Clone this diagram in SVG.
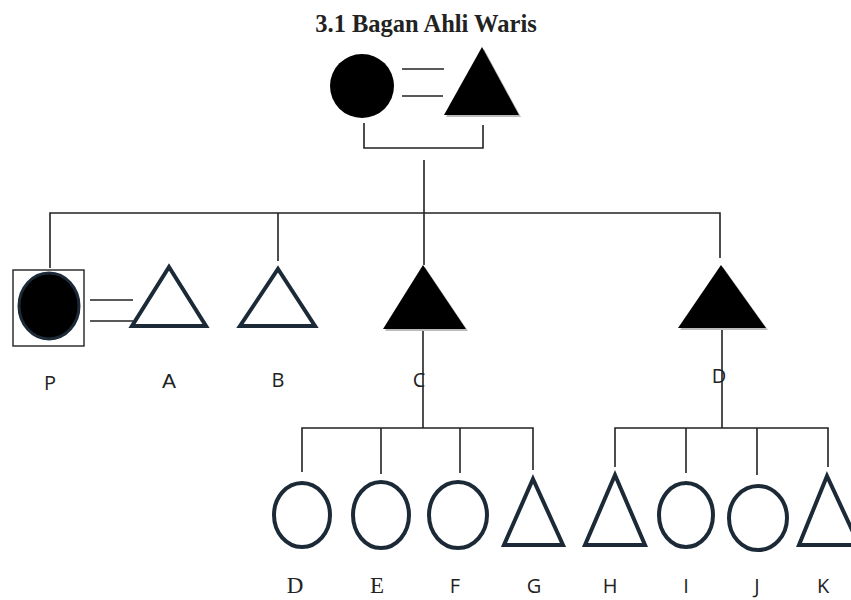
<svg xmlns="http://www.w3.org/2000/svg" width="851" height="600" viewBox="0 0 851 600">
<style>
.ln{stroke:#222;stroke-width:1.6;fill:none}
.open{fill:#fff;stroke:#1c2a38;stroke-width:4;stroke-linejoin:miter}
.fill{fill:#000}
.sh{fill:#bbb}
.lbs{font-family:"Open Sans","Liberation Sans",sans-serif;font-size:20px;fill:#222;text-anchor:middle}
.lbr{font-family:"Liberation Serif",serif;font-size:23px;fill:#222;text-anchor:middle}
.title{font-family:"Liberation Serif",serif;font-weight:bold;font-size:24.5px;fill:#222;text-anchor:middle}
</style>
<rect width="851" height="600" fill="#fff"/>
<text class="title" x="426" y="32">3.1 Bagan Ahli Waris</text>
<g id="connectors">
<line class="ln" x1="402" y1="69" x2="444" y2="69"/>
<line class="ln" x1="402" y1="96" x2="443" y2="96"/>
<polyline class="ln" points="364,123 364,148 483,148 483,125"/>
<line class="ln" x1="424" y1="160" x2="424" y2="265"/>
<polyline class="ln" points="50,268 50,213 720,213 720,258"/>
<line class="ln" x1="278" y1="213" x2="278" y2="261"/>
<line class="ln" x1="90" y1="300" x2="133" y2="300"/>
<line class="ln" x1="90" y1="321" x2="133" y2="321"/>
<line class="ln" x1="423" y1="329" x2="423" y2="428"/>
<polyline class="ln" points="302,472 302,428 533,428 533,470"/>
<line class="ln" x1="381" y1="428" x2="381" y2="474"/>
<line class="ln" x1="460" y1="428" x2="460" y2="473"/>
<line class="ln" x1="722" y1="328" x2="722" y2="428"/>
<polyline class="ln" points="615,467 615,428 828,428 828,467"/>
<line class="ln" x1="686" y1="428" x2="686" y2="473"/>
<line class="ln" x1="757" y1="428" x2="757" y2="475"/>
</g>
<g id="mother">
<circle cx="362" cy="86" r="32" fill="#000"/>
</g>
<g id="father">
<polygon class="sh" points="484,49 521,117 446,117"/>
<polygon class="fill" points="482,47 519,115 444,115"/>
</g>
<g id="P">
<rect x="13" y="270" width="71" height="76" fill="#fff" stroke="#222" stroke-width="1.4"/>
<ellipse cx="49" cy="306" rx="30" ry="33" fill="#000" stroke="#1c2a38" stroke-width="3"/>
<text class="lbs" x="50" y="390">P</text>
</g>
<g id="A">
<polygon class="open" points="169,267 206,326 132,326"/>
<text class="lbr" x="169" y="388" style="font-family:'Liberation Sans',sans-serif;font-size:21px">A</text>
</g>
<g id="B">
<polygon class="open" points="278,269 315,326 240,326"/>
<text class="lbs" x="278" y="387">B</text>
</g>
<g id="C">
<polygon class="sh" points="425,267 468,331 385,331"/>
<polygon class="fill" points="423,265 466,329 383,329"/>
<text class="lbs" x="419" y="387">C</text>
</g>
<g id="D">
<polygon class="sh" points="723,267 768,330 680,330"/>
<polygon class="fill" points="721,265 766,328 678,328"/>
<text class="lbs" x="719" y="383">D</text>
</g>
<g id="D2">
<ellipse class="open" cx="302" cy="515" rx="28" ry="32"/>
<text class="lbr" x="295" y="593">D</text>
</g>
<g id="E">
<ellipse class="open" cx="381" cy="515" rx="28" ry="33"/>
<text class="lbr" x="377" y="593">E</text>
</g>
<g id="F">
<ellipse class="open" cx="458" cy="515" rx="29" ry="33"/>
<text class="lbs" x="455" y="593">F</text>
</g>
<g id="G">
<polygon class="open" points="533,479 563,545 504,545"/>
<text class="lbs" x="534" y="593">G</text>
</g>
<g id="H">
<polygon class="open" points="615,475 645,545 585,545"/>
<text class="lbs" x="610" y="593">H</text>
</g>
<g id="I">
<ellipse class="open" cx="686" cy="515" rx="27" ry="32"/>
<text class="lbs" x="686" y="593">I</text>
</g>
<g id="J">
<ellipse class="open" cx="758" cy="518" rx="29" ry="32"/>
<text class="lbs" x="757" y="593">J</text>
</g>
<g id="K">
<polygon class="open" points="827,476 859,545 799,545"/>
<text class="lbs" x="823" y="593">K</text>
</g>
</svg>
